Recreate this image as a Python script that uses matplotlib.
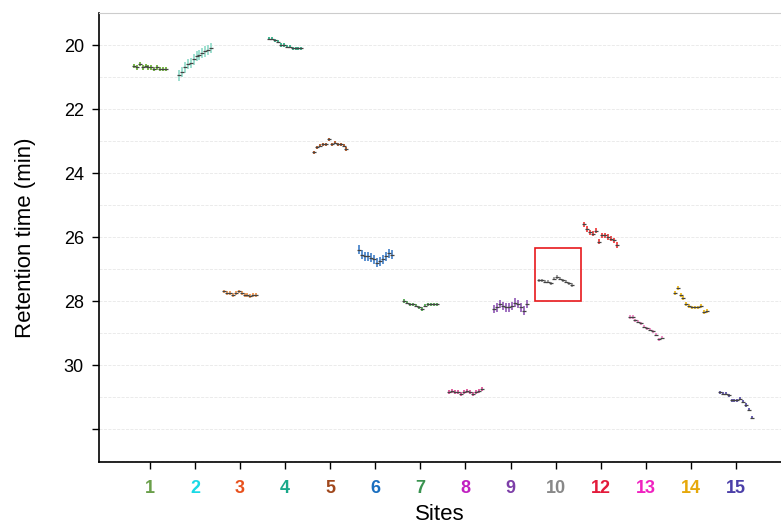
import matplotlib.pyplot as plt
import numpy as np
from matplotlib.patches import Rectangle

plt.rcParams['font.family'] = ['Liberation Sans', 'DejaVu Sans']

sites = ['1', '2', '3', '4', '5', '6', '7', '8', '9', '10', '12', '13', '14', '15']
label_colors = ['#6a9f4a', '#1ad9e5', '#e8501c', '#1aa88a', '#a0471c', '#1a6fc0', '#3a9350',
                '#c020c0', '#7d3fa8', '#888888', '#e31a3a', '#f021c0', '#e6a80a', '#4b3fa8']
point_colors = ['#7ab84a', '#9fe0d0', '#f0a060', '#40b890', '#b86030', '#5a90d0', '#60b060',
                '#e060a0', '#a070c0', '#a0a0a0', '#f05050', '#f090c8', '#f0c030', '#6a60b0']

rt = [
    [20.65, 20.7, 20.6, 20.7, 20.65, 20.7, 20.7, 20.75, 20.7, 20.75, 20.75, 20.75],
    [20.95, 20.85, 20.7, 20.6, 20.55, 20.45, 20.35, 20.3, 20.25, 20.2, 20.15, 20.1],
    [27.7, 27.75, 27.75, 27.8, 27.75, 27.7, 27.75, 27.8, 27.8, 27.85, 27.8, 27.8],
    [19.8, 19.8, 19.85, 19.9, 20.0, 20.0, 20.05, 20.05, 20.1, 20.1, 20.1, 20.1],
    [23.35, 23.2, 23.15, 23.1, 23.1, 22.95, 23.1, 23.05, 23.1, 23.1, 23.15, 23.25],
    [26.4, 26.55, 26.6, 26.6, 26.65, 26.7, 26.8, 26.75, 26.7, 26.6, 26.5, 26.55],
    [28.0, 28.05, 28.1, 28.1, 28.15, 28.2, 28.25, 28.15, 28.1, 28.1, 28.1, 28.1],
    [30.85, 30.8, 30.85, 30.85, 30.9, 30.85, 30.8, 30.85, 30.9, 30.85, 30.8, 30.75],
    [28.25, 28.2, 28.1, 28.15, 28.2, 28.2, 28.15, 28.05, 28.1, 28.2, 28.3, 28.1],
    [27.35, 27.35, 27.4, 27.4, 27.45, 27.3, 27.25, 27.3, 27.35, 27.4, 27.45, 27.5],
    [25.6, 25.75, 25.85, 25.9, 25.8, 26.15, 25.95, 25.95, 26.0, 26.05, 26.1, 26.25],
    [28.5, 28.5, 28.6, 28.65, 28.7, 28.8, 28.85, 28.9, 28.95, 29.05, 29.2, 29.15],
    [27.75, 27.6, 27.8, 27.9, 28.1, 28.15, 28.2, 28.2, 28.2, 28.15, 28.35, 28.3],
    [30.85, 30.9, 30.9, 30.95, 31.1, 31.1, 31.1, 31.05, 31.15, 31.25, 31.4, 31.65],
]
err = [0.07, 0.16, 0.06, 0.05, 0.05, 0.14, 0.05, 0.06, 0.13, 0.05, 0.08, 0.05, 0.06, 0.05]

fig = plt.figure(figsize=(7.81, 5.27), dpi=100)
ax = fig.add_axes([0.1268, 0.1233, 0.8732, 0.852])

for i, vals in enumerate(rt):
    n = len(vals)
    xs = i + np.linspace(-0.36, 0.36, n)
    ax.errorbar(xs, vals, yerr=err[i], fmt='_', ms=3.5, mew=0.9, color='#444444',
                ecolor=point_colors[i], elinewidth=1.4, capsize=0, zorder=3)

ax.add_patch(Rectangle((8.54, 26.35), 1.02, 1.65, fill=False, edgecolor='#e8191c', lw=1.2, zorder=4))

ax.set_xlim(-1.13, 14.0)
ax.set_ylim(33.03, 19.0)
ax.set_xticks(range(len(sites)))
ax.set_xticklabels(sites, fontsize=13, fontweight='bold')
for t, c in zip(ax.get_xticklabels(), label_colors):
    t.set_color(c)
ax.set_yticks([20, 22, 24, 26, 28, 30, 32])
ax.set_yticklabels(['20', '22', '24', '26', '28', '30', ''], fontsize=13)
ax.set_yticks(np.arange(19, 33.5, 1), minor=True)
ax.tick_params(axis='y', which='minor', length=0)
ax.grid(True, axis='y', which='both', linestyle='--', color='#e8e8e8', linewidth=0.6)
ax.set_axisbelow(True)
ax.tick_params(axis='x', direction='out', length=5, width=1, pad=8)
ax.tick_params(axis='y', direction='out', length=5, width=1, pad=6)

ax.set_xlabel('Sites', fontsize=16, labelpad=5)
ax.set_ylabel('Retention time (min)', fontsize=16, labelpad=20)

ax.spines['right'].set_visible(False)
ax.spines['top'].set_color('#cccccc')
ax.spines['left'].set_linewidth(1.2)
ax.spines['bottom'].set_linewidth(1.2)

fig.savefig('out.png', dpi=100)
